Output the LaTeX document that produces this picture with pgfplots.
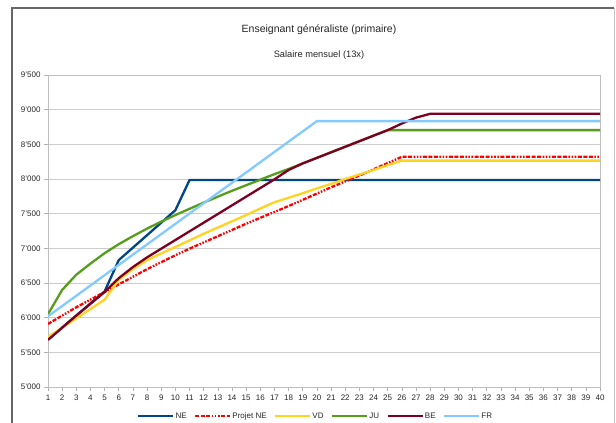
\documentclass[border=0pt]{standalone}
\usepackage{fontspec}
\setmainfont{Liberation Sans}
\usepackage{pgfplots}
\usepackage{pgfplotstable}
\pgfplotsset{compat=1.18}

\definecolor{ne}{HTML}{004586}
\definecolor{pne}{HTML}{FF0000}
\definecolor{vd}{HTML}{FFD320}
\definecolor{ju}{HTML}{579D1C}
\definecolor{be}{HTML}{7E0021}
\definecolor{fr}{HTML}{83CAFF}

% monthly salary by step (1..40)
\pgfplotstableread{
x  NE   PNE  VD   JU   BE   FR
1  5683 5910 5720 6050 5680 6020
2  5857 6030 5855 6400 5855 6168
3  6031 6150 5990 6620 6030 6316
4  6205 6260 6125 6780 6200 6464
5  6379 6370 6260 6930 6370 6613
6  6830 6480 6545 7060 6570 6761
7  7010 6590 6700 7175 6730 6909
8  7190 6700 6830 7285 6870 7057
9  7370 6800 6925 7385 6995 7205
10 7550 6900 7020 7480 7120 7353
11 7985 6995 7115 7570 7245 7502
12 7985 7085 7210 7660 7370 7650
13 7985 7175 7300 7745 7495 7798
14 7985 7265 7390 7830 7620 7946
15 7985 7355 7480 7910 7745 8094
16 7985 7440 7575 7990 7870 8242
17 7985 7525 7665 8070 7995 8391
18 7985 7610 7730 8145 8130 8539
19 7985 7700 7795 8225 8225 8687
20 7985 7790 7865 8305 8305 8835
21 7985 7880 7930 8385 8385 8835
22 7985 7965 8000 8465 8465 8835
23 7985 8050 8065 8545 8545 8835
24 7985 8140 8130 8625 8625 8835
25 7985 8230 8200 8705 8705 8835
26 7985 8320 8265 8705 8800 8835
27 7985 8320 8265 8705 8885 8835
28 7985 8320 8265 8705 8940 8835
29 7985 8320 8265 8705 8940 8835
30 7985 8320 8265 8705 8940 8835
31 7985 8320 8265 8705 8940 8835
32 7985 8320 8265 8705 8940 8835
33 7985 8320 8265 8705 8940 8835
34 7985 8320 8265 8705 8940 8835
35 7985 8320 8265 8705 8940 8835
36 7985 8320 8265 8705 8940 8835
37 7985 8320 8265 8705 8940 8835
38 7985 8320 8265 8705 8940 8835
39 7985 8320 8265 8705 8940 8835
40 7985 8320 8265 8705 8940 8835
}\salaires

\begin{document}
\begin{tikzpicture}
\path[use as bounding box] (0,0) rectangle (616pt,423pt);
\begin{scope}
\clip (0,0) rectangle (616pt,423pt);
\fill[white] (0,0) rectangle (616pt,423pt);
\draw[gray!45, line width=1pt] (614pt,415pt) -- (614pt,-10pt);
\draw[black!60, line width=1.2pt] (12pt,-10pt) -- (12pt,415pt) -- (614pt,415pt);
\end{scope}
\node[font=\fontsize{10.5}{12}\selectfont, text=black!85] at (319pt,393pt) {Enseignant généraliste (primaire)};
\node[font=\fontsize{9.3}{11}\selectfont, text=black!85] at (319pt,368pt) {Salaire mensuel (13x)};
\begin{axis}[
    at={(48pt,36pt)}, anchor=south west,
    scale only axis, width=552pt, height=312pt,
    xmin=1, xmax=40, ymin=5000, ymax=9500,
    xtick={1,...,40}, ytick={5000,5500,...,9500},
    xtick pos=bottom, ytick pos=left,
    tick align=outside, major tick length=4pt,
    tick style={draw=gray!60, line width=0.6pt},
    axis line style={draw=gray!50, line width=0.6pt},
    ymajorgrids, grid style={draw=gray!40, line width=0.7pt},
    ticklabel style={font=\fontsize{8}{9}\selectfont, text=black!85},
    /pgf/number format/assume math mode=true,
    /pgf/number format/1000 sep={'},
    every axis plot/.append style={line width=2.3pt, line join=round},
    legend columns=6,
    legend style={at={(0.484,-0.093)}, anchor=center, draw=none, fill=none,
        font=\fontsize{8}{9}\selectfont, text=black!85,
        nodes={inner sep=1pt},
        /tikz/every even column/.append style={column sep=6.5pt}},
    legend image code/.code={\draw[#1] (0pt,0pt) -- (35pt,0pt);},
]
\addplot[ne, no marks] table[x=x, y=NE] {\salaires};
\addplot[pne, no marks, dash pattern=on 4pt off 1.5pt on 4pt off 1.5pt on 4pt off 1.5pt on 1.6pt off 1.5pt on 1.6pt off 1.5pt on 1.6pt off 1.5pt] table[x=x, y=PNE] {\salaires};
\addplot[vd, no marks] table[x=x, y=VD] {\salaires};
\addplot[ju, no marks] table[x=x, y=JU] {\salaires};
\addplot[be, no marks] table[x=x, y=BE] {\salaires};
\addplot[fr, no marks] table[x=x, y=FR] {\salaires};
\legend{NE, Projet NE, VD, JU, BE, FR}
\end{axis}
\end{tikzpicture}
\end{document}
